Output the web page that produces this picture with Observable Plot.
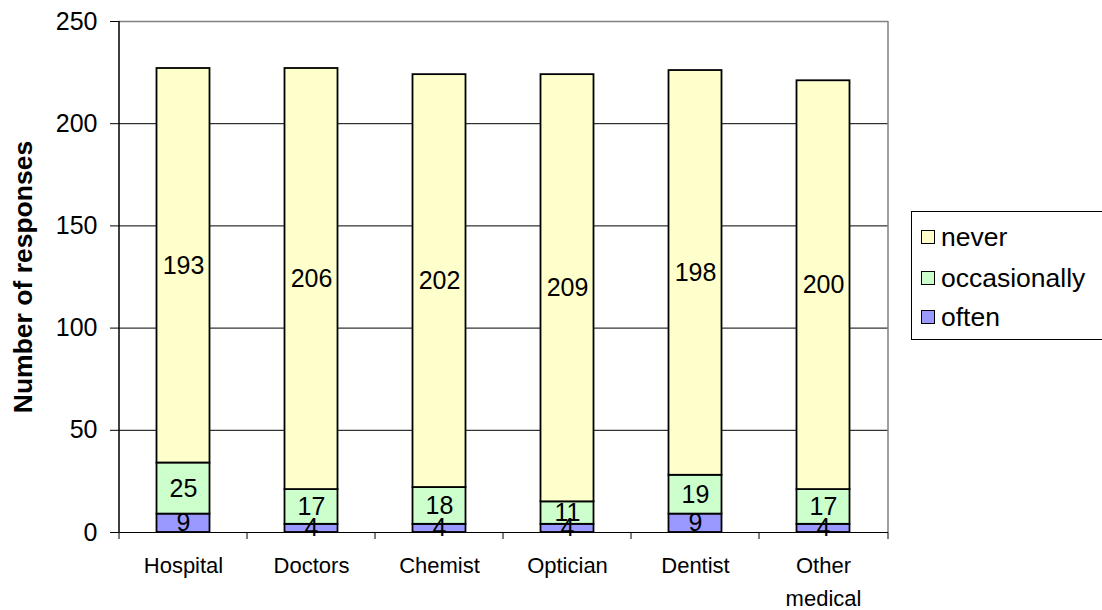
<!DOCTYPE html>
<html>
<head>
<meta charset="utf-8">
<script src="https://cdn.jsdelivr.net/npm/d3@7"></script>
<script src="https://cdn.jsdelivr.net/npm/@observablehq/plot@0.6"></script>
<style>
  body { margin: 0; background: #fff; font-family: "Liberation Sans", Arial, sans-serif; }
  #wrap { position: relative; width: 1102px; height: 610px; }
  #legend { position: absolute; left: 911px; top: 211px; width: 191px; height: 129px;
    border: 1px solid #000; border-right: none; box-sizing: border-box; background: #fff; }
  .item { position: absolute; left: 9px; height: 30px; display: flex; align-items: center; font-size: 26.5px; }
  .sw { width: 12px; height: 12px; border: 1.5px solid #000; margin-right: 6px; flex: none; }
</style>
</head>
<body>
<div id="wrap"></div>
<script>
const categories = ["Hospital", "Doctors", "Chemist", "Optician", "Dentist", "Other medical"];
const seriesNames = ["often", "occasionally", "never"];
const often = [9, 4, 4, 4, 9, 4];
const occasionally = [25, 17, 18, 11, 19, 17];
const never = [193, 206, 202, 209, 198, 200];
const seriesColors = ["#9999FF", "#CCFFCC", "#FFFFCC"];
const yTicks = [0, 50, 100, 150, 200, 250];

const seriesValues = {often, occasionally, never};
const rows = [];
categories.forEach((c, i) => {
  seriesNames.forEach(s => rows.push({cat: c, series: s, value: seriesValues[s][i]}));
});

const inset = 37.5;

const frameLines = (index, scales, values, dims) => {
  const g = d3.create("svg:g");
  const x = scales.x;
  const y0 = dims.height - dims.marginBottom;
  const xs = categories.map(c => x(c));
  xs.push(dims.width - dims.marginRight);
  for (const px of xs) {
    g.append("line").attr("x1", px).attr("x2", px).attr("y1", y0).attr("y2", y0 + 7)
      .attr("stroke", "#000").attr("stroke-width", 1);
  }
  const xr = dims.width - dims.marginRight;
  g.append("line").attr("x1", xr).attr("x2", xr).attr("y1", dims.marginTop).attr("y2", y0)
    .attr("stroke", "#808080").attr("stroke-width", 1.5);
  const xl = x(categories[0]);
  g.append("line").attr("x1", xl).attr("x2", xl).attr("y1", dims.marginTop).attr("y2", y0)
    .attr("stroke", "#000").attr("stroke-width", 1.5);
  return g.node();
};

const chart = Plot.plot({
  width: 1102,
  height: 610,
  marginLeft: 118,
  marginRight: 214,
  marginTop: 21,
  marginBottom: 78,
  style: {fontFamily: "'Liberation Sans', Arial, sans-serif", background: "#fff"},
  x: {type: "band", domain: categories, padding: 0},
  y: {domain: [0, 250]},
  color: {domain: seriesNames, range: seriesColors},
  marks: [
    Plot.gridY(yTicks.filter(t => t > 0 && t < 250), {stroke: "#000", strokeOpacity: 1, strokeWidth: 1}),
    Plot.ruleY([250], {stroke: "#808080", strokeWidth: 1.5}),
    Plot.barY(rows, {x: "cat", y: "value", fill: "series", stroke: "#000", strokeWidth: 1.8,
      insetLeft: inset, insetRight: inset}),
    Plot.text(rows, Plot.stackY({x: "cat", y: "value", text: "value", fontSize: 25, fill: "#000"})),
    Plot.ruleY([0], {stroke: "#000", strokeWidth: 1}),
    Plot.axisY({ticks: yTicks, tickSize: 8, tickPadding: 13, fontSize: 25, label: "Number of responses",
      labelAnchor: "center", labelOffset: 105, labelArrow: "none"}),
    Plot.axisX({tickSize: 0, tickPadding: 17, fontSize: 22, lineHeight: 1.5, label: null,
      tickFormat: d => d === "Other medical" ? "Other\nmedical" : d}),
    frameLines
  ]
});

document.getElementById("wrap").appendChild(chart);

d3.select(chart).selectAll("g[aria-label='y-axis label'] text")
  .attr("font-weight", "bold").attr("font-size", 26.5);

const legend = document.createElement("div");
legend.id = "legend";
const legendOrder = ["never", "occasionally", "often"];
const centers = [25, 66, 105];
legendOrder.forEach((s, i) => {
  const it = document.createElement("div");
  it.className = "item";
  it.style.top = (centers[i] - 15) + "px";
  const sw = document.createElement("div");
  sw.className = "sw";
  sw.style.background = seriesColors[seriesNames.indexOf(s)];
  const t = document.createElement("span");
  t.textContent = s;
  it.appendChild(sw); it.appendChild(t);
  legend.appendChild(it);
});
document.getElementById("wrap").appendChild(legend);
</script>
</body>
</html>
